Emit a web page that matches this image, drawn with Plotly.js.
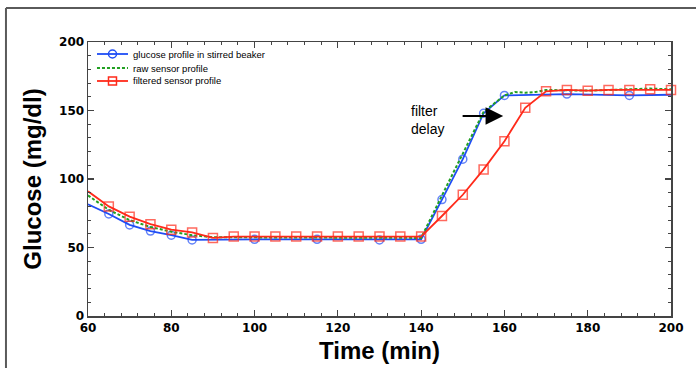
<!DOCTYPE html>
<html>
<head>
<meta charset="utf-8">
<script src="https://cdn.plot.ly/plotly-3.0.1.min.js"></script>
<style>
html,body{margin:0;padding:0;background:#fff;}
#chart{width:696px;height:368px;}
</style>
</head>
<body>
<div id="chart"></div>
<script>
// Glucose profile in stirred beaker (blue circles)
var blueTime = [60,65,70,75,80,85,100,115,130,140,145,150,155,160,175,190,200];
var blueGlucose = [81.5,74.5,66.5,62,59,55.5,56,56,55.5,56,85,114.5,148,161,162,161,161.5];

// Raw sensor profile (green dotted)
var rawTime = [60,65,70,75,80,85,90,95,100,105,110,115,120,125,130,135,140,145,150,155,160,162.5,165,167.5,170,175,180,185,190,195,200];
var rawGlucose = [88,77.5,70,65,61.5,59,57.5,57.5,57,57,57,57,57,57,57,57,57,88,118,149,161,163.5,163,163.5,165,164.5,164.5,165,165.5,166,165.5];

// Filtered sensor profile (red squares)
var filtTime = [60,65,70,75,80,85,90,95,100,105,110,115,120,125,130,135,140,145,150,155,160,165,170,175,180,185,190,195,200];
var filtGlucose = [91,80,72.5,67,63,61,57,58,58,58,58,58,58,58,58,58,58,73,88.5,107,127.5,152,164,165,164.5,165,165,165.5,165];

var seriesNames = ['glucose profile in stirred beaker', 'raw sensor profile', 'filtered sensor profile'];
var xTicks = [60,80,100,120,140,160,180,200];
var yTicks = [0,50,100,150,200];

var BLUE = '#1f4df5', GREEN = '#22a022', RED = '#ff2a1a';

function endSizes(xs, size, skipLast) {
  return xs.map(function(x, i){
    if (i === 0) return 0;
    if (skipLast && i === xs.length - 1) return 0;
    return size;
  });
}

var traces = [
  {
    x: blueTime, y: blueGlucose, mode: 'lines+markers', name: seriesNames[0],
    line: {color: BLUE, width: 1.8},
    marker: {symbol: 'circle-open', size: endSizes(blueTime, 8, true), color: BLUE, line: {width: 1.5, color: BLUE}},
    cliponaxis: false
  },
  {
    x: rawTime, y: rawGlucose, mode: 'lines', name: seriesNames[1],
    line: {color: GREEN, width: 2, dash: '3px,2px'},
    cliponaxis: false
  },
  {
    x: filtTime, y: filtGlucose, mode: 'lines+markers', name: seriesNames[2],
    line: {color: RED, width: 1.8},
    marker: {symbol: 'square-open', size: endSizes(filtTime, 9, false), color: RED, line: {width: 1.5, color: RED}},
    cliponaxis: false
  }
];

var tickFont = {family: 'DejaVu Sans, sans-serif', size: 12, color: '#000', weight: 'bold'};
var titleFont = {family: 'Liberation Sans, Arial, sans-serif', size: 24, color: '#000', weight: 'bold'};
var legendFont = {family: 'Liberation Sans, Arial, sans-serif', size: 9.5, color: '#000'};

// compact legend (drawn as paper-positioned decorations)
var legY = [0.9562, 0.9051, 0.8577];
var legX0 = 0.0154, legX1 = 0.0686, legXc = 0.0420, legTx = 0.0737;
var legColors = [BLUE, GREEN, RED];
var legDash = ['solid', '3px,2px', 'solid'];

var shapes = [
  {type: 'line', xref: 'paper', yref: 'paper', x0: -0.1407, x1: 1.3, y0: 1.1241, y1: 1.1241,
   line: {color: '#5a5a5a', width: 2}, layer: 'below'},
  {type: 'line', xref: 'paper', yref: 'paper', x0: -0.1407, x1: -0.1407, y0: -0.4, y1: 1.1241,
   line: {color: '#5a5a5a', width: 2}, layer: 'below'}
];
var annotations = [
  {
    x: 137, y: 143, xref: 'x', yref: 'y', xanchor: 'left', yanchor: 'middle',
    text: 'filter<br>delay', showarrow: false, align: 'left',
    font: {family: 'Liberation Sans, Arial, sans-serif', size: 14, color: '#000'}
  },
  {
    x: 159.7, y: 146, ax: 149.6, ay: 146, xref: 'x', yref: 'y', axref: 'x', ayref: 'y',
    text: '', showarrow: true, arrowhead: 2, arrowsize: 1.6, arrowwidth: 2.2, arrowcolor: '#000'
  }
];
seriesNames.forEach(function(nm, i){
  shapes.push({type: 'line', xref: 'paper', yref: 'paper', x0: legX0, x1: legX1, y0: legY[i], y1: legY[i],
    line: {color: legColors[i], width: i === 1 ? 2 : 1.8, dash: legDash[i]}});
  annotations.push({xref: 'paper', yref: 'paper', x: legTx, y: legY[i], xanchor: 'left', yanchor: 'middle',
    text: nm, showarrow: false, font: legendFont});
});
shapes.push({type: 'circle', xref: 'paper', yref: 'paper', xsizemode: 'pixel', ysizemode: 'pixel',
  xanchor: legXc, yanchor: legY[0], x0: -4, x1: 4, y0: -4, y1: 4, line: {color: BLUE, width: 1.5}, fillcolor: 'rgba(0,0,0,0)'});
shapes.push({type: 'rect', xref: 'paper', yref: 'paper', xsizemode: 'pixel', ysizemode: 'pixel',
  xanchor: legXc, yanchor: legY[2], x0: -4, x1: 4, y0: -4, y1: 4, line: {color: RED, width: 1.5}, fillcolor: 'rgba(0,0,0,0)'});

var layout = {
  width: 696, height: 368,
  margin: {l: 88, r: 25, t: 42, b: 52},
  paper_bgcolor: '#fff', plot_bgcolor: '#fff',
  showlegend: false,
  xaxis: {
    range: [60, 200], tickmode: 'array', tickvals: xTicks, ticktext: xTicks.map(String),
    ticks: 'inside', ticklen: 6, tickwidth: 1.2, tickcolor: '#444',
    minor: {dtick: 4, tick0: 0, ticks: 'inside', ticklen: 3, tickwidth: 1, tickcolor: '#444'},
    showline: true, linecolor: '#444', linewidth: 1.5, mirror: 'ticks',
    showgrid: false, zeroline: false,
    tickfont: tickFont,
    title: {text: 'Time (min)', font: titleFont, standoff: 8}
  },
  yaxis: {
    range: [0, 200], tickmode: 'array', tickvals: yTicks, ticktext: yTicks.map(String),
    ticks: 'inside', ticklen: 6, tickwidth: 1.2, tickcolor: '#444',
    minor: {dtick: 10, tick0: 0, ticks: 'inside', ticklen: 3, tickwidth: 1, tickcolor: '#444'},
    showline: true, linecolor: '#444', linewidth: 1.5, mirror: 'ticks',
    showgrid: false, zeroline: false,
    tickfont: tickFont,
    title: {text: 'Glucose (mg/dl)', font: titleFont, standoff: 10}
  },
  annotations: annotations,
  shapes: shapes
};

Plotly.newPlot('chart', traces, layout, {displayModeBar: false, staticPlot: true});
</script>
</body>
</html>
